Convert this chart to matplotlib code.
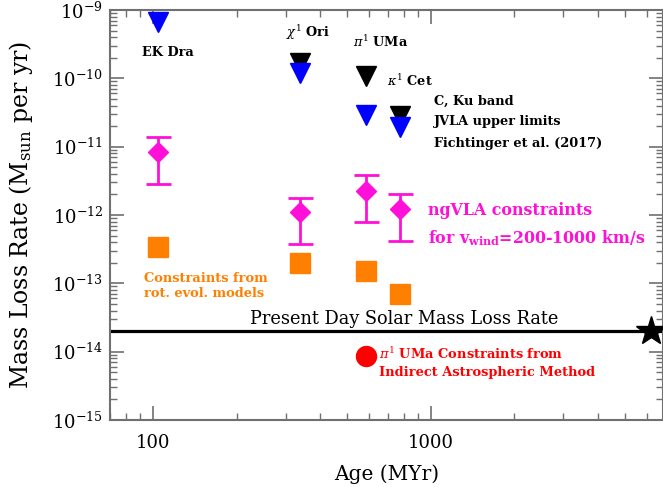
import matplotlib.pyplot as plt
import matplotlib.ticker as mticker
from matplotlib import rcParams

rcParams['font.family'] = ['DejaVu Serif']
rcParams['mathtext.fontset'] = 'dejavuserif'

# star ages (MYr)
stars = ['EK Dra', 'chi1 Ori', 'pi1 UMa', 'kappa1 Cet']
age = [104, 338, 583, 773]

# JVLA upper limits (Fichtinger et al. 2017)
c_band = [None, 1.68e-10, 1.1e-10, 2.8e-11]
ku_band = [6.7e-10, 1.2e-10, 2.9e-11, 1.94e-11]

# ngVLA constraints
ngvla = [8.4e-12, 1.09e-12, 2.24e-12, 1.21e-12]
ngvla_hi = [1.4e-11, 1.8e-12, 3.85e-12, 2.0e-12]
ngvla_lo = [2.8e-12, 3.8e-13, 7.9e-13, 4.1e-13]

# rotational evolution models
rot_models = [3.4e-13, 1.96e-13, 1.5e-13, 6.9e-14]

# astrospheric constraint for pi1 UMa
astro_age = 583
astro_rate = 8.6e-15

sun_age = 6200
sun_rate = 2e-14

pink = '#FF10D8'
orange = '#FF8000'

fig = plt.figure(figsize=(6.63, 4.87), dpi=100)
ax = fig.add_axes([110 / 663, 67 / 487, 553 / 663, 410 / 487])
ax.set_xscale('log')
ax.set_yscale('log')
ax.set_xlim(70, 6850)
ax.set_ylim(1e-15, 1e-9)

# solar line + sun
ax.axhline(sun_rate, color='black', lw=2.3, zorder=2)
ax.plot(sun_age, sun_rate, marker='*', ms=22, color='black', clip_on=False, zorder=5)

# JVLA limits
cx = [a for a, v in zip(age, c_band) if v is not None]
cy = [v for v in c_band if v is not None]
ax.plot(cx, cy, 'v', ms=14.4, color='black', ls='none', zorder=3)
ax.plot(age, ku_band, 'v', ms=14.4, color='blue', ls='none', zorder=4)

# ngVLA
yerr = [[v - lo for v, lo in zip(ngvla, ngvla_lo)],
        [hi - v for v, hi in zip(ngvla, ngvla_hi)]]
ax.errorbar(age, ngvla, yerr=yerr, fmt='D', ms=10, color=pink, ecolor=pink,
            elinewidth=2, capsize=9, capthick=2, zorder=4)

# rot. evol. models
ax.plot(age, rot_models, 's', ms=14.4, color=orange, ls='none', zorder=4)

# astrospheric
ax.plot(astro_age, astro_rate, 'o', ms=14.4, color='red', zorder=4)

# annotations
bold = dict(fontweight='bold', fontsize=9.3)
ax.text(113, 2.35e-10, 'EK Dra', ha='center', va='center', **bold)
ax.text(300, 4.6e-10, r'$\chi^{1}$ Ori', ha='left', va='center', **bold)
ax.text(524, 3.4e-10, r'$\pi^{1}$ UMa', ha='left', va='center', **bold)
ax.text(694, 9.1e-11, r'$\kappa^{1}$ Cet', ha='left', va='center', **bold)
ax.text(1025, 4.65e-11, 'C, Ku band', ha='left', va='center', **bold)
ax.text(1025, 2.3e-11, 'JVLA upper limits', ha='left', va='center', **bold)
ax.text(1025, 1.13e-11, 'Fichtinger et al. (2017)', ha='left', va='center', **bold)

ax.text(976, 1.18e-12, 'ngVLA constraints', ha='left', va='center',
        color=pink, fontweight='bold', fontsize=11.4)
ax.text(976, 4.6e-13, r'for v$_{\mathbf{wind}}$=200-1000 km/s', ha='left', va='center',
        color=pink, fontweight='bold', fontsize=11.4)

ax.text(92.6, 1.16e-13, 'Constraints from', ha='left', va='center',
        color=orange, fontweight='bold', fontsize=9.4)
ax.text(92.6, 7e-14, 'rot. evol. models', ha='left', va='center',
        color=orange, fontweight='bold', fontsize=9.4)

ax.text(800, 3.0e-14, 'Present Day Solar Mass Loss Rate', ha='center', va='center',
        fontsize=12.8)

ax.text(650, 9.2e-15, r'$\pi^{1}$ UMa Constraints from', ha='left', va='center',
        color='red', fontweight='bold', fontsize=9.4)
ax.text(650, 4.9e-15, 'Indirect Astrospheric Method', ha='left', va='center',
        color='red', fontweight='bold', fontsize=9.4)

# axes styling
ax.xaxis.set_major_locator(mticker.FixedLocator([100, 1000]))
ax.xaxis.set_major_formatter(mticker.FixedFormatter(['100', '1000']))
ax.xaxis.set_minor_locator(mticker.LogLocator(base=10, subs=range(2, 10), numticks=20))
ax.xaxis.set_minor_formatter(mticker.NullFormatter())
ax.yaxis.set_major_locator(mticker.LogLocator(base=10, numticks=20))
ax.yaxis.set_minor_locator(mticker.LogLocator(base=10, subs=range(2, 10), numticks=20))
ax.yaxis.set_minor_formatter(mticker.NullFormatter())

ax.tick_params(which='both', direction='in', top=True, right=True, color='#707070')
ax.tick_params(which='major', length=10, width=1.2, labelsize=13)
ax.tick_params(which='minor', length=5, width=1)
ax.tick_params(axis='x', which='major', pad=10)
ax.tick_params(axis='y', which='major', pad=5)
for s in ax.spines.values():
    s.set_color('#707070')
    s.set_linewidth(1.5)

ax.set_xlabel('Age (MYr)', fontsize=14.5, labelpad=9)
ax.set_ylabel(r'Mass Loss Rate (M$_{\mathrm{sun}}$ per yr)', fontsize=17, labelpad=12)

plt.savefig('out.png', dpi=100)
